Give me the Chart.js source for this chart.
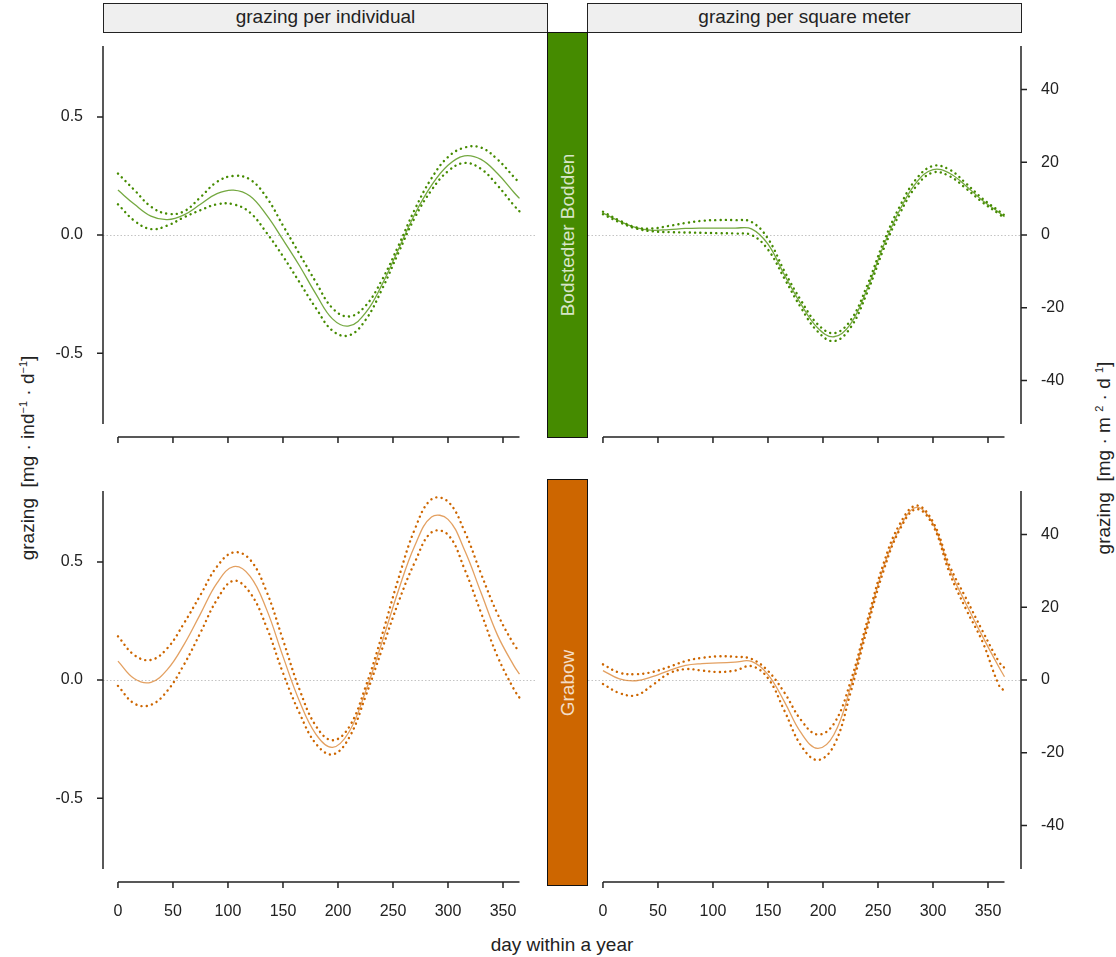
<!DOCTYPE html>
<html>
<head>
<meta charset="utf-8">
<script src="https://cdn.jsdelivr.net/npm/chart.js@4"></script>
<style>
body { margin: 0; background: #fff; width: 1116px; height: 957px; position: relative; overflow: hidden;
       font-family: "Liberation Sans", Arial, Helvetica, sans-serif; color: #222; }
canvas { position: absolute; left: 0; top: 0; }
.strip { position: absolute; box-sizing: border-box; border: 1.5px solid #222; background: #efefef;
         font-size: 19px; text-align: center; line-height: 26px; }
.bar { position: absolute; box-sizing: border-box; border: 1.5px solid #111; }
.rot { position: absolute; width: 0; height: 0; }
.rot span { position: absolute; left: 0; top: 0; white-space: nowrap; font-size: 19px;
            transform: translate(-50%, -50%) rotate(-90deg); }
.bar span { position: absolute; left: 50%; top: 50%; white-space: nowrap; font-size: 19px;
            transform: translate(-50%, -50%) rotate(-90deg); color: rgba(255,255,255,0.8); }
sup { font-size: 11px; }
</style>
</head>
<body>
<div class="strip" style="left:103px;top:3px;width:445px;height:30px;">grazing per individual</div>
<div class="strip" style="left:587px;top:3px;width:435px;height:30px;">grazing per square meter</div>
<div class="bar" style="left:547px;top:32px;width:41px;height:406px;background:#458B00;"><span>Bodstedter Bodden</span></div>
<div class="bar" style="left:547px;top:479px;width:41px;height:407px;background:#CD6600;"><span>Grabow</span></div>
<div class="rot" style="left:28px;top:458px;"><span>grazing&nbsp;&nbsp;[mg · ind<sup>−1</sup> · d<sup>−1</sup>]</span></div>
<div class="rot" style="left:1104px;top:458px;"><span>grazing&nbsp;&nbsp;[mg · m <sup>2</sup> · d <sup>1</sup>]</span></div>
<div style="position:absolute;left:0;width:1124px;top:934px;text-align:center;font-size:19px;">day within a year</div>

<canvas id="tl" width="1116" height="957"></canvas>
<canvas id="tr" width="1116" height="957"></canvas>
<canvas id="bl" width="1116" height="957"></canvas>
<canvas id="br" width="1116" height="957"></canvas>

<script>
// day of year for every series value
const days = [0, 15, 30, 45, 60, 75, 90, 105, 120, 135, 150, 165, 180, 195, 210, 225, 240, 255, 270, 285, 300, 315, 330, 345, 360, 365];
const xTicks = [0, 50, 100, 150, 200, 250, 300, 350];
const xAxisEnd = 365;
const yTicksInd = [-0.5, 0, 0.5];
const yTicksArea = [-40, -20, 0, 20, 40];

// Bodstedter Bodden, grazing per individual
const bodIndMean  = [0.19, 0.13, 0.08, 0.065, 0.085, 0.13, 0.175, 0.19, 0.165, 0.085, -0.02, -0.13, -0.25, -0.355, -0.385, -0.33, -0.21, -0.06, 0.09, 0.21, 0.295, 0.335, 0.32, 0.26, 0.18, 0.155];
const bodIndUpper = [0.26, 0.19, 0.12, 0.09, 0.10, 0.16, 0.225, 0.25, 0.235, 0.16, 0.04, -0.08, -0.20, -0.31, -0.345, -0.30, -0.19, -0.045, 0.11, 0.24, 0.33, 0.37, 0.37, 0.32, 0.245, 0.22];
const bodIndLower = [0.13, 0.06, 0.025, 0.04, 0.075, 0.105, 0.13, 0.13, 0.095, 0.01, -0.09, -0.20, -0.31, -0.405, -0.425, -0.36, -0.23, -0.075, 0.075, 0.19, 0.27, 0.305, 0.28, 0.21, 0.125, 0.10];

// Bodstedter Bodden, grazing per square meter
const bodAreaMean  = [6, 3.8, 2.0, 1.3, 1.5, 1.8, 1.9, 1.9, 1.9, 1.7, -2.5, -11, -19, -25.5, -28, -24.5, -15, -3, 7, 14.5, 18, 17, 13.5, 9.5, 6.2, 5];
const bodAreaUpper = [6.4, 4.0, 2.1, 1.8, 2.5, 3.3, 3.9, 4.1, 4.1, 3.6, -1, -10, -18, -24.5, -27, -23.5, -14, -2, 8, 15.5, 19, 18, 14.2, 10, 6.6, 5.4];
const bodAreaLower = [5.7, 3.5, 1.8, 1.0, 0.8, 0.7, 0.6, 0.5, 0.4, 0.0, -4, -12, -20, -26.5, -29.2, -25.5, -16, -4, 6, 13.5, 17.2, 16.2, 12.8, 9, 5.8, 4.6];

// Grabow, grazing per individual
const graIndMean  = [0.08, 0.005, -0.01, 0.045, 0.15, 0.28, 0.41, 0.48, 0.44, 0.30, 0.10, -0.09, -0.23, -0.285, -0.22, -0.05, 0.16, 0.38, 0.57, 0.69, 0.68, 0.55, 0.37, 0.19, 0.06, 0.025];
const graIndUpper = [0.185, 0.105, 0.085, 0.135, 0.24, 0.36, 0.48, 0.54, 0.51, 0.375, 0.17, -0.04, -0.195, -0.255, -0.20, -0.03, 0.19, 0.43, 0.64, 0.765, 0.755, 0.63, 0.45, 0.28, 0.15, 0.12];
const graIndLower = [-0.025, -0.10, -0.105, -0.045, 0.065, 0.20, 0.34, 0.42, 0.37, 0.225, 0.03, -0.14, -0.27, -0.315, -0.245, -0.07, 0.13, 0.33, 0.50, 0.625, 0.615, 0.47, 0.285, 0.10, -0.04, -0.075];

// Grabow, grazing per square meter
const graAreaMean  = [2.6, 0.3, -0.2, 0.9, 2.6, 4.0, 4.5, 4.7, 4.9, 5.1, 1.5, -6, -14.5, -18.8, -15, -2, 15, 31, 42, 47.5, 43, 30.5, 21, 12, 3.5, 0.9];
const graAreaUpper = [4.3, 2.0, 1.6, 2.2, 3.6, 5.2, 6.1, 6.5, 6.4, 5.8, 2.5, -3.5, -11, -15, -12, -0.5, 16, 32, 43, 48, 43.5, 31.5, 22.5, 13.5, 5, 3.3];
const graAreaLower = [-1.1, -3.6, -4.2, -1.4, 1.8, 3.0, 2.6, 2.2, 2.6, 3.8, 0.5, -8.5, -18, -22, -18, -3.5, 14, 30, 41.5, 47, 42.5, 29.5, 19.5, 10.5, -1.5, -3];

const green = '#458B00';
const orange = '#CD6600';

// R-style detached axes drawn from the chart's own scales
const rAxes = {
    id: 'rAxes',
    beforeDatasetsDraw(chart) {
        const {ctx, chartArea: a, scales: {y}} = chart;
        const y0 = Math.round(y.getPixelForValue(0)) + 0.5;
        ctx.save();
        ctx.strokeStyle = '#c4c4c4';
        ctx.lineWidth = 1;
        ctx.setLineDash([1.5, 2]);
        ctx.beginPath();
        ctx.moveTo(a.left, y0);
        ctx.lineTo(a.right, y0);
        ctx.stroke();
        ctx.restore();
    },
    afterDraw(chart, args, o) {
        const {ctx, chartArea: a, scales: {x, y}} = chart;
        ctx.save();
        ctx.strokeStyle = '#222';
        ctx.fillStyle = '#222';
        ctx.lineWidth = 1.5;
        ctx.font = '16px "Liberation Sans", Arial, sans-serif';

        const xa = a.bottom + 13;
        ctx.beginPath();
        ctx.moveTo(x.getPixelForValue(0), xa);
        ctx.lineTo(x.getPixelForValue(xAxisEnd), xa);
        xTicks.forEach(v => {
            const px = x.getPixelForValue(v);
            ctx.moveTo(px, xa);
            ctx.lineTo(px, xa + 6);
        });

        const left = o.side === 'left';
        const ya = left ? a.left : a.right;
        const dir = left ? -1 : 1;
        ctx.moveTo(ya, a.top);
        ctx.lineTo(ya, a.bottom);
        o.ticks.forEach(v => {
            const py = y.getPixelForValue(v);
            ctx.moveTo(ya, py);
            ctx.lineTo(ya + dir * 6, py);
        });
        ctx.stroke();

        ctx.textBaseline = 'middle';
        ctx.textAlign = left ? 'right' : 'left';
        o.ticks.forEach(v => ctx.fillText(v.toFixed(o.decimals), ya + dir * 20, y.getPixelForValue(v)));

        if (o.xLabels) {
            ctx.textAlign = 'center';
            xTicks.forEach(v => ctx.fillText(String(v), x.getPixelForValue(v), xa + 30));
        }
        ctx.restore();
    }
};

function toPoints(arr) {
    return days.map((d, i) => ({x: d, y: arr[i]}));
}

function panel(id, box, yLim, mean, upper, lower, color, solidColor, axis) {
    const dotted = {
        borderColor: color, borderWidth: 2.4, borderDash: [0.1, 5.2], borderCapStyle: 'round',
        pointRadius: 0, tension: 0.4, fill: false
    };
    new Chart(document.getElementById(id), {
        type: 'line',
        data: {
            datasets: [
                Object.assign({label: 'upper', data: toPoints(upper)}, dotted),
                Object.assign({label: 'lower', data: toPoints(lower)}, dotted),
                {label: 'mean', data: toPoints(mean), borderColor: solidColor, borderWidth: 1.3,
                 pointRadius: 0, tension: 0.4, fill: false}
            ]
        },
        options: {
            responsive: false,
            animation: false,
            devicePixelRatio: 1,
            events: [],
            layout: {padding: {left: box.l, top: box.t, right: 1116 - box.r, bottom: 957 - box.b}},
            scales: {
                x: {type: 'linear', display: false, min: -13.6, max: 380},
                y: {type: 'linear', display: false, min: -yLim, max: yLim}
            },
            plugins: {legend: {display: false}, tooltip: {enabled: false}, rAxes: axis}
        },
        plugins: [rAxes]
    });
}

const leftX = {l: 103, r: 536};
const rightX = {l: 588, r: 1021};
const topY = {t: 46, b: 424};
const botY = {t: 491, b: 869};

panel('tl', {l: leftX.l, r: leftX.r, t: topY.t, b: topY.b}, 0.8, bodIndMean, bodIndUpper, bodIndLower,
      green, 'rgba(69,139,0,0.75)', {side: 'left', ticks: yTicksInd, decimals: 1, xLabels: false});
panel('tr', {l: rightX.l, r: rightX.r, t: topY.t, b: topY.b}, 52, bodAreaMean, bodAreaUpper, bodAreaLower,
      green, 'rgba(69,139,0,0.75)', {side: 'right', ticks: yTicksArea, decimals: 0, xLabels: false});
panel('bl', {l: leftX.l, r: leftX.r, t: botY.t, b: botY.b}, 0.8, graIndMean, graIndUpper, graIndLower,
      orange, 'rgba(215,120,30,0.7)', {side: 'left', ticks: yTicksInd, decimals: 1, xLabels: true});
panel('br', {l: rightX.l, r: rightX.r, t: botY.t, b: botY.b}, 52, graAreaMean, graAreaUpper, graAreaLower,
      orange, 'rgba(215,120,30,0.7)', {side: 'right', ticks: yTicksArea, decimals: 0, xLabels: true});
</script>
</body>
</html>
